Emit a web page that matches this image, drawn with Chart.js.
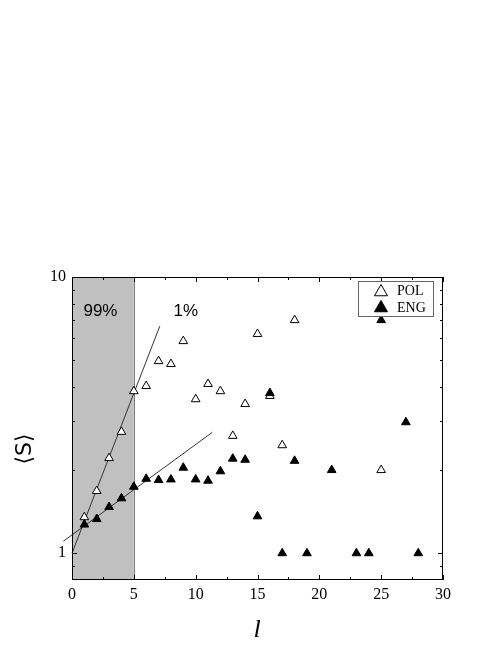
<!DOCTYPE html>
<html>
<head>
<meta charset="utf-8">
<script src="https://cdn.jsdelivr.net/npm/chart.js@4.4.1/dist/chart.umd.min.js"></script>
<style>
  html, body { margin: 0; padding: 0; background: #fff; }
  #wrap { width: 498px; height: 645px; }
</style>
</head>
<body>
<div id="wrap"><canvas id="chart"></canvas></div>
<script>
// POL (open triangles)
const polL = [1, 2, 3, 4, 5, 6, 7, 8, 9, 10, 11, 12, 13, 14, 15, 16, 17, 18, 25];
const polS = [1.35, 1.68, 2.21, 2.75, 3.86, 4.03, 4.96, 4.84, 5.86, 3.61, 4.1, 3.86, 2.66, 3.47, 6.22, 3.71, 2.46, 6.98, 2.0];

// ENG (filled triangles)
const engL = [1, 2, 3, 4, 5, 6, 7, 8, 9, 10, 11, 12, 13, 14, 15, 16, 17, 18, 19, 21, 23, 24, 25, 27, 28];
const engS = [1.27, 1.33, 1.47, 1.58, 1.74, 1.86, 1.84, 1.85, 2.04, 1.85, 1.83, 1.98, 2.20, 2.18, 1.36, 3.8, 1.0, 2.16, 1.0, 2.0, 1.0, 1.0, 6.98, 2.98, 1.0];

// fitted lines (end points)
const polFitL = [0, 7.1];
const polFitS = [1.0, 6.64];
const engFitL = [-0.7, 11.35];
const engFitS = [1.105, 2.74];

const xTicks = [0, 5, 10, 15, 20, 25, 30];
const xMinor = [2.5, 7.5, 12.5, 17.5, 22.5, 27.5];
const yTicks = [1, 10];
const yMinor = [0.9, 2, 3, 4, 5, 6, 7, 8, 9];
const shadeTo = 5;

const pts = (xs, ys) => xs.map((x, i) => ({x: x, y: ys[i]}));

const frame = {
  id: 'frame',
  beforeDatasetsDraw(chart) {
    const {ctx, chartArea: a, scales: {x}} = chart;
    const xs = x.getPixelForValue(shadeTo);
    ctx.save();
    ctx.fillStyle = '#c0c0c0';
    ctx.fillRect(a.left, a.top, xs - a.left, a.bottom - a.top);
    ctx.strokeStyle = '#7a7a7a';
    ctx.lineWidth = 1;
    ctx.beginPath();
    ctx.moveTo(Math.round(xs) + 0.5, a.top);
    ctx.lineTo(Math.round(xs) + 0.5, a.bottom);
    ctx.stroke();
    ctx.fillStyle = '#000';
    ctx.font = '17px "Liberation Sans", Arial, sans-serif';
    ctx.textAlign = 'center';
    ctx.textBaseline = 'middle';
    ctx.fillText('99%', x.getPixelForValue(2.3), 311);
    ctx.fillText('1%', x.getPixelForValue(9.2), 311);
    ctx.restore();
  },
  afterDraw(chart) {
    const {ctx, chartArea: a, scales: {x, y}} = chart;
    ctx.save();
    ctx.strokeStyle = '#000';
    ctx.lineWidth = 1;
    ctx.strokeRect(a.left + 0.5, a.top + 0.5, a.right - a.left - 1, a.bottom - a.top - 1);
    ctx.beginPath();
    const tx = (v, len) => {
      const p = Math.round(x.getPixelForValue(v)) + 0.5;
      ctx.moveTo(p, a.bottom); ctx.lineTo(p, a.bottom - len);
      ctx.moveTo(p, a.top); ctx.lineTo(p, a.top + len);
    };
    const ty = (v, len) => {
      const p = Math.round(y.getPixelForValue(v)) + 0.5;
      ctx.moveTo(a.left, p); ctx.lineTo(a.left + len, p);
      ctx.moveTo(a.right, p); ctx.lineTo(a.right - len, p);
    };
    xTicks.forEach(v => tx(v, 5));
    xMinor.forEach(v => tx(v, 3));
    yTicks.forEach(v => ty(v, 5));
    yMinor.forEach(v => ty(v, 3));
    ctx.stroke();

    // legend
    const lx = 358, ly = 281, lw = 75, lh = 35;
    ctx.fillStyle = '#fff';
    ctx.fillRect(lx, ly, lw, lh);
    ctx.strokeStyle = '#666';
    ctx.strokeRect(lx + 0.5, ly + 0.5, lw, lh);
    ctx.strokeStyle = '#000';
    ctx.fillStyle = '#fff';
    Chart.helpers.drawPoint(ctx, {pointStyle: 'triangle', radius: 7.5, borderWidth: 1}, 381, 292);
    ctx.fillStyle = '#000';
    Chart.helpers.drawPoint(ctx, {pointStyle: 'triangle', radius: 7.5, borderWidth: 1}, 381, 308);
    ctx.font = '14px "Liberation Serif", "Times New Roman", serif';
    ctx.textAlign = 'left';
    ctx.textBaseline = 'middle';
    ctx.fillText('POL', 397, 291);
    ctx.fillText('ENG', 397, 308);

    // axis titles
    ctx.font = 'italic 26px "Liberation Serif", "Times New Roman", serif';
    ctx.textAlign = 'center';
    ctx.fillText('l', 257, 630);
    ctx.translate(25, 449);
    ctx.rotate(-Math.PI / 2);
    ctx.font = '22px "DejaVu Sans", sans-serif';
    ctx.fillText('\u27E8S\u27E9', 0, 0);
    ctx.restore();
  }
};

new Chart(document.getElementById('chart'), {
  type: 'scatter',
  data: {
    datasets: [
      {
        label: 'ENG',
        data: pts(engL, engS),
        pointStyle: 'triangle',
        pointRadius: 5,
        pointBackgroundColor: '#000',
        pointBorderColor: '#000',
        pointBorderWidth: 1
      },
      {
        label: 'POL',
        data: pts(polL, polS),
        pointStyle: 'triangle',
        pointRadius: 5,
        pointBackgroundColor: '#fff',
        pointBorderColor: '#000',
        pointBorderWidth: 1
      },
      {
        label: 'fitPOL',
        data: pts(polFitL, polFitS),
        showLine: true,
        pointRadius: 0,
        borderColor: '#333',
        borderWidth: 1,
        clip: false
      },
      {
        label: 'fitENG',
        data: pts(engFitL, engFitS),
        showLine: true,
        pointRadius: 0,
        borderColor: '#333',
        borderWidth: 1,
        clip: false
      }
    ]
  },
  options: {
    responsive: true,
    maintainAspectRatio: false,
    animation: false,
    layout: { padding: { top: 277, right: 55, bottom: 0, left: 0 } },
    plugins: { legend: { display: false }, tooltip: { enabled: false } },
    scales: {
      x: {
        type: 'linear',
        min: 0,
        max: 30,
        afterBuildTicks: s => { s.ticks = xTicks.map(v => ({value: v})); },
        afterFit: s => { s.height = 65; },
        ticks: {
          color: '#000',
          padding: 5,
          font: { family: '"Liberation Serif", "Times New Roman", serif', size: 16 }
        },
        grid: { display: false, drawTicks: false },
        border: { display: false }
      },
      y: {
        type: 'logarithmic',
        min: 0.8,
        max: 10,
        afterBuildTicks: s => { s.ticks = yTicks.map(v => ({value: v})); },
        afterFit: s => { s.width = 72; },
        ticks: {
          color: '#000',
          padding: 6,
          callback: v => String(v),
          font: { family: '"Liberation Serif", "Times New Roman", serif', size: 16 }
        },
        grid: { display: false, drawTicks: false },
        border: { display: false }
      }
    }
  },
  plugins: [frame]
});
</script>
</body>
</html>
